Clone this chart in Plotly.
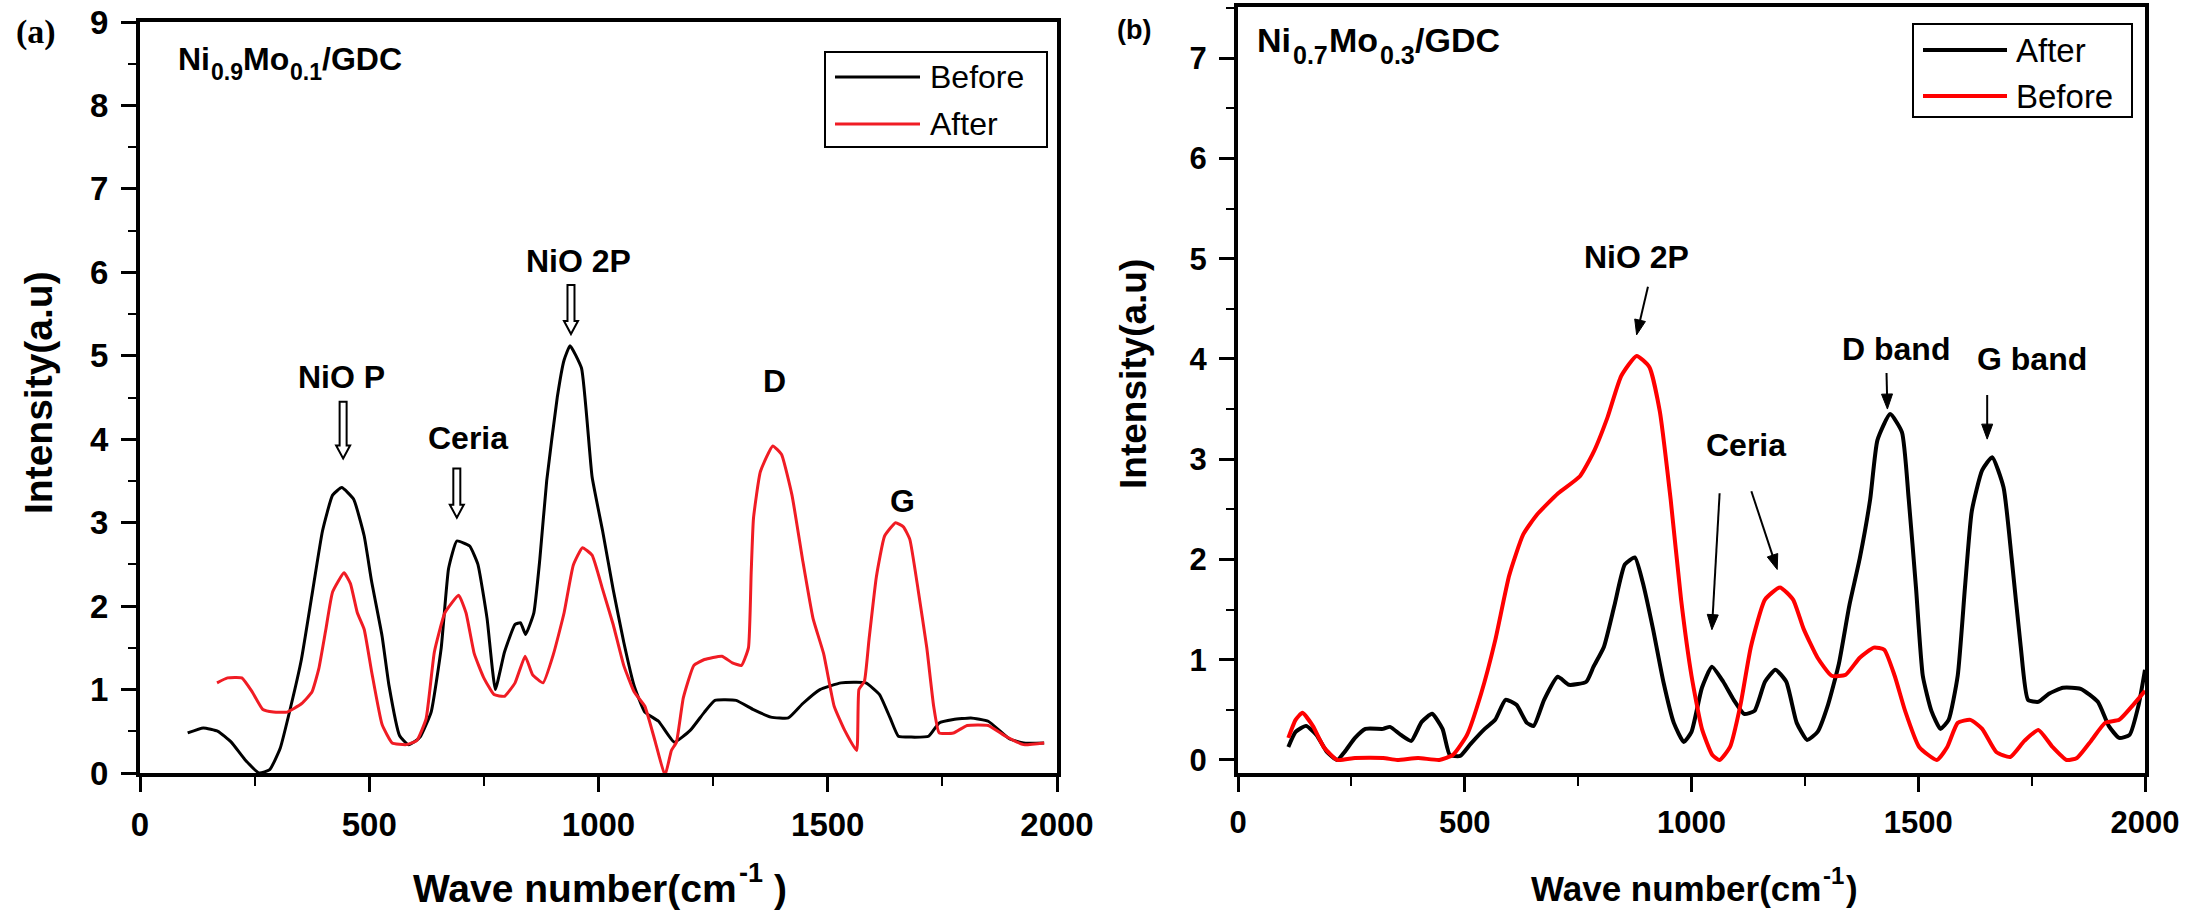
import math
import plotly.graph_objects as go

W, H = 2204, 923

# ---------------- data ----------------
x_ticks = [0, 500, 1000, 1500, 2000]
a_y_ticks = [0, 1, 2, 3, 4, 5, 6, 7, 8, 9]
b_y_ticks = [0, 1, 2, 3, 4, 5, 6, 7]

# Panel (a) Ni0.9Mo0.1/GDC
a_before_x = [104, 138, 170, 199, 229, 260, 283, 306, 329, 352, 375, 398, 420, 440, 466, 489, 505, 528, 543,
              566, 585, 600, 612, 635, 657, 673, 691, 719, 737, 757, 775, 795, 818, 830, 841, 859, 872, 887,
              910, 925, 938, 963, 986, 1009, 1032, 1055, 1078, 1101, 1131, 1165, 1200, 1231, 1254, 1300, 1338,
              1376, 1414, 1445, 1483, 1529, 1583, 1613, 1636, 1654, 1682, 1720, 1743, 1774, 1812, 1850, 1896,
              1927, 1972]
a_before_y = [0.48, 0.54, 0.50, 0.37, 0.16, 0.0, 0.04, 0.30, 0.80, 1.36, 2.13, 2.90, 3.33, 3.42, 3.28, 2.84,
              2.30, 1.64, 1.05, 0.45, 0.34, 0.38, 0.44, 0.73, 1.50, 2.45, 2.78, 2.72, 2.50, 1.85, 1.00, 1.45,
              1.78, 1.80, 1.66, 1.92, 2.56, 3.50, 4.50, 4.95, 5.12, 4.85, 3.55, 2.90, 2.20, 1.57, 1.04, 0.73,
              0.62, 0.37, 0.51, 0.73, 0.87, 0.87, 0.76, 0.67, 0.66, 0.83, 1.00, 1.08, 1.08, 0.94, 0.66, 0.44,
              0.43, 0.44, 0.60, 0.64, 0.66, 0.62, 0.41, 0.36, 0.36]

a_after_x = [168, 191, 222, 245, 268, 291, 321, 352, 375, 390, 405, 420, 445, 459, 474, 489, 505, 528, 550,
             581, 604, 624, 642, 665, 695, 711, 729, 749, 772, 795, 818, 840, 856, 879, 902, 925, 945, 965,
             986, 1009, 1032, 1055, 1078, 1101, 1124, 1145, 1159, 1170, 1185, 1208, 1231, 1269, 1292, 1312,
             1327, 1333, 1338, 1353, 1380, 1399, 1422, 1445, 1468, 1491, 1514, 1537, 1563, 1568, 1580, 1590,
             1606, 1624, 1648, 1665, 1679, 1697, 1716, 1731, 1743, 1774, 1804, 1850, 1888, 1927, 1972]
a_after_y = [1.08, 1.14, 1.14, 0.97, 0.76, 0.73, 0.73, 0.83, 0.97, 1.25, 1.71, 2.17, 2.40, 2.27, 1.92, 1.72,
             1.22, 0.58, 0.36, 0.34, 0.39, 0.65, 1.45, 1.92, 2.13, 1.92, 1.43, 1.15, 0.94, 0.92, 1.08, 1.40,
             1.18, 1.08, 1.43, 1.92, 2.49, 2.70, 2.61, 2.20, 1.78, 1.29, 0.97, 0.80, 0.37, -0.03, 0.27, 0.37,
             0.90, 1.29, 1.36, 1.40, 1.32, 1.29, 1.50, 2.40, 3.05, 3.61, 3.92, 3.82, 3.33, 2.56, 1.85, 1.43,
             0.80, 0.51, 0.27, 1.00, 1.10, 1.60, 2.35, 2.84, 3.00, 2.95, 2.80, 2.20, 1.50, 0.80, 0.48, 0.48,
             0.57, 0.57, 0.44, 0.34, 0.36]

# Panel (b) Ni0.7Mo0.3/GDC
b_after_x = [111, 127, 150, 173, 196, 219, 235, 258, 281, 320, 335, 359, 382, 405, 428, 451, 467, 490, 513,
             544, 567, 590, 614, 637, 652, 675, 705, 730, 768, 784, 807, 830, 853, 875, 892, 915, 938, 961,
             983, 1000, 1023, 1045, 1070, 1093, 1116, 1139, 1162, 1185, 1209, 1232, 1255, 1278, 1301, 1325,
             1348, 1371, 1394, 1410, 1438, 1464, 1479, 1495, 1510, 1529, 1549, 1567, 1587, 1603, 1618, 1641,
             1663, 1688, 1706, 1726, 1742, 1765, 1788, 1819, 1858, 1896, 1920, 1943, 1966, 1986, 2000]
b_after_y = [0.13, 0.28, 0.34, 0.25, 0.08, 0.0, 0.08, 0.22, 0.31, 0.31, 0.33, 0.25, 0.19, 0.38, 0.46, 0.31,
             0.05, 0.04, 0.16, 0.31, 0.40, 0.60, 0.55, 0.37, 0.34, 0.60, 0.83, 0.75, 0.78, 0.93, 1.13, 1.54,
             1.95, 2.02, 1.78, 1.31, 0.78, 0.37, 0.18, 0.28, 0.72, 0.93, 0.78, 0.60, 0.46, 0.49, 0.78, 0.90,
             0.78, 0.37, 0.20, 0.28, 0.55, 0.96, 1.54, 2.01, 2.60, 3.19, 3.45, 3.27, 2.60, 1.72, 0.84, 0.49,
             0.31, 0.40, 0.84, 1.72, 2.48, 2.89, 3.02, 2.72, 2.01, 1.13, 0.60, 0.58, 0.66, 0.72, 0.71, 0.58,
             0.34, 0.22, 0.25, 0.55, 0.90]

b_before_x = [111, 127, 142, 165, 189, 219, 258, 320, 351, 397, 444, 474, 505, 536, 567, 598, 629, 660, 706,
              754, 784, 815, 845, 879, 907, 930, 954, 977, 1000, 1023, 1046, 1062, 1085, 1108, 1131, 1162,
              1195, 1224, 1247, 1278, 1309, 1340, 1371, 1402, 1425, 1448, 1471, 1502, 1541, 1564, 1587, 1615,
              1641, 1672, 1703, 1734, 1765, 1796, 1827, 1850, 1881, 1912, 1943, 1974, 2000]
b_before_y = [0.22, 0.40, 0.47, 0.34, 0.13, 0.0, 0.02, 0.02, 0.0, 0.02, 0.0, 0.05, 0.25, 0.66, 1.19, 1.84,
              2.25, 2.45, 2.66, 2.83, 3.07, 3.42, 3.83, 4.03, 3.92, 3.48, 2.60, 1.60, 0.84, 0.31, 0.05, 0.0,
              0.13, 0.55, 1.13, 1.60, 1.72, 1.60, 1.31, 1.02, 0.84, 0.85, 1.02, 1.12, 1.10, 0.84, 0.49, 0.13,
              0.0, 0.13, 0.37, 0.40, 0.31, 0.08, 0.03, 0.19, 0.30, 0.13, 0.0, 0.02, 0.19, 0.37, 0.40, 0.55, 0.69]

# annotation positions (data units)
a_labels = [("NiO P", 439, 4.74), ("Ceria", 716, 4.02), ("NiO 2P", 956, 6.13), ("D", 1384, 4.70),
            ("G", 1664, 3.26)]
a_arrows = [(443, 4.45, 3.77), (691, 3.65, 3.06), (940, 5.85, 5.26)]          # x, tail y, tip y
b_labels = [("NiO 2P", 879, 5.02), ("Ceria", 1121, 3.14), ("D band", 1452, 4.10), ("G band", 1750, 4.00)]
b_arrows = [(904, 4.72, 879, 4.24), (1062, 2.66, 1045, 1.30), (1132, 2.68, 1189, 1.90),
            (1430, 3.86, 1432, 3.50), (1652, 3.64, 1652, 3.20)]            # tail x, tail y, tip x, tip y

# ---------------- styling ----------------
SANS = "Liberation Sans, Arial, Helvetica, sans-serif"
SERIF = "Liberation Serif, Times New Roman, serif"
RED_A = "#f01c24"
RED_B = "#ff0000"

# pixel geometry of the plot areas
A_X0, A_X1, A_Y0, A_Y1 = 140, 1057, 773, 22        # left, right, bottom, top (px)
B_X0, B_X1, B_Y0, B_Y1 = 1238, 2145, 773, 7
A_RANGE_Y = [0, 9]
B_RANGE_Y = [-0.13, 7.51]

# Arial/Liberation Sans Bold advance widths (em) for the characters used in composed labels
BOLD_W = {"W": .944, "a": .556, "v": .556, "e": .556, " ": .278, "n": .611, "u": .611, "m": .889,
          "b": .611, "r": .389, "(": .333, ")": .333, "c": .556, "-": .333, "1": .556, ".": .278,
          "0": .556, "3": .556, "7": .556, "9": .556, "N": .722, "i": .278, "M": .833, "o": .611,
          "/": .278, "G": .778, "D": .722, "C": .722}


def px_x(p):
    return p / W


def px_y(p):
    return 1 - p / H


fig = go.Figure()
fig.add_trace(go.Scatter(x=a_before_x, y=a_before_y, mode="lines", name="Before",
                         line=dict(color="black", width=3, shape="spline", smoothing=0.4),
                         xaxis="x", yaxis="y", showlegend=False))
fig.add_trace(go.Scatter(x=a_after_x, y=a_after_y, mode="lines", name="After",
                         line=dict(color=RED_A, width=3, shape="spline", smoothing=0.4),
                         xaxis="x", yaxis="y", showlegend=False))
fig.add_trace(go.Scatter(x=b_after_x, y=b_after_y, mode="lines", name="After",
                         line=dict(color="black", width=4, shape="spline", smoothing=0.5),
                         xaxis="x2", yaxis="y2", showlegend=False))
fig.add_trace(go.Scatter(x=b_before_x, y=b_before_y, mode="lines", name="Before",
                         line=dict(color=RED_B, width=4, shape="spline", smoothing=0.5),
                         xaxis="x2", yaxis="y2", showlegend=False))


def xaxis_style(domain, fsize, anchor):
    return dict(domain=domain, range=[0, 2000], tickmode="array", tickvals=x_ticks, anchor=anchor,
                ticks="outside", ticklen=15, tickwidth=3, tickcolor="black",
                showline=True, linewidth=4, linecolor="black", mirror=True,
                showgrid=False, zeroline=False, automargin=False,
                ticklabelstandoff=4,
                minor=dict(tickmode="linear", tick0=0, dtick=250, ticks="outside", ticklen=9,
                           tickwidth=2, tickcolor="black", showgrid=False),
                tickfont=dict(family=SANS, size=fsize, color="black", weight="bold"))


def yaxis_style(domain, rng, tv, fsize, anchor):
    return dict(domain=domain, range=rng, tickmode="array", tickvals=tv, anchor=anchor,
                ticks="outside", ticklen=15, tickwidth=3, tickcolor="black",
                showline=True, linewidth=4, linecolor="black", mirror=True,
                showgrid=False, zeroline=False, automargin=False,
                ticklabelstandoff=6,
                minor=dict(tickmode="linear", tick0=0, dtick=0.5, ticks="outside", ticklen=8,
                           tickwidth=2, tickcolor="black", showgrid=False),
                tickfont=dict(family=SANS, size=fsize, color="black", weight="bold"))


fig.update_layout(
    width=W, height=H,
    margin=dict(l=0, r=0, t=0, b=0),
    paper_bgcolor="white", plot_bgcolor="white",
    xaxis=xaxis_style([px_x(A_X0), px_x(A_X1)], 33, "y"),
    yaxis=yaxis_style([px_y(A_Y0), px_y(A_Y1)], A_RANGE_Y, a_y_ticks, 33, "x"),
    xaxis2=xaxis_style([px_x(B_X0), px_x(B_X1)], 31, "y2"),
    yaxis2=yaxis_style([px_y(B_Y0), px_y(B_Y1)], B_RANGE_Y, b_y_ticks, 31, "x2"),
    showlegend=False,
)

ann = []
shapes = []


def text(x, y, s, size, family=SANS, weight="bold", xref="paper", yref="paper", xanchor="center",
         yanchor="middle", angle=0, color="black"):
    ann.append(dict(x=x, y=y, xref=xref, yref=yref, text=s, showarrow=False, xanchor=xanchor,
                    yanchor=yanchor, textangle=angle,
                    font=dict(family=family, size=size, color=color, weight=weight)))


def seg_width(s, size):
    return sum(BOLD_W[c] for c in s) * size


def composed(x_px, y_px, segments, anchor="left"):
    """segments: (text, font size, vertical shift px (down +), extra gap before px)"""
    total = sum(seg_width(t, s) + g for t, s, _, g in segments)
    if anchor == "center":
        x_px -= total / 2
    for t, s, dy, g in segments:
        x_px += g
        text(px_x(x_px), px_y(y_px + dy), t, s, xanchor="left")
        x_px += seg_width(t, s)


# panel letters
text(px_x(36), px_y(32), "(a)", 34, family=SERIF)
text(px_x(1134), px_y(30), "(b)", 27, family=SANS)

# axis titles (with raised "-1")
composed(598, 888, [("Wave number(cm", 39, 0, 0), ("-1", 27, -15, 1), (")", 39, 0, 11)], anchor="center")
composed(1692, 888, [("Wave number(cm", 35, 0, 0), ("-1", 24, -13, 1), (")", 35, 0, 1)], anchor="center")
text(px_x(38), px_y(393), "Intensity(a.u)", 39, angle=-90)
text(px_x(1133), px_y(374), "Intensity(a.u)", 37, angle=-90)

# sample names (with lowered subscripts)
composed(176, 59, [("Ni", 32, 0, 0), ("0.9", 23, 13, 1), ("Mo", 32, 0, 0), ("0.1", 23, 13, 1),
                   ("/GDC", 32, 0, 0)])
composed(1255, 40, [("Ni", 34, 0, 0), ("0.7", 25, 15, 2), ("Mo", 34, 0, 1), ("0.3", 25, 15, 2),
                    ("/GDC", 34, 0, 0)])

for s, x, y in a_labels:
    text(x, y, s, 32, xref="x", yref="y")
for s, x, y in b_labels:
    text(x, y, s, 32, xref="x2", yref="y2")

# hollow arrows of panel (a): outlined path anchored at the tip, sized in pixels
a_ppu = (A_Y0 - A_Y1) / (A_RANGE_Y[1] - A_RANGE_Y[0])
for x, y_tail, y_tip in a_arrows:
    L = (y_tail - y_tip) * a_ppu
    path = (f"M0,0 L7,13 L3.5,13 L3.5,{L:.1f} L-3.5,{L:.1f} L-3.5,13 L-7,13 Z")
    shapes.append(dict(type="path", xref="x", yref="y", xsizemode="pixel", ysizemode="pixel",
                       xanchor=x, yanchor=y_tip, path=path, fillcolor="white",
                       line=dict(color="black", width=2)))

# thin arrows of panel (b): line + filled head
b_ppx = (B_X1 - B_X0) / 2000.0
b_ppy = (B_Y0 - B_Y1) / (B_RANGE_Y[1] - B_RANGE_Y[0])
HL, HW = 15, 5.5
for x0, y0, x1, y1 in b_arrows:
    dx = (x1 - x0) * b_ppx
    dy = (y1 - y0) * b_ppy
    n = math.hypot(dx, dy)
    ux, uy = dx / n, dy / n
    bx, by = -HL * ux, -HL * uy
    px_, py_ = -uy, ux
    path = (f"M0,0 L{bx + HW * px_:.2f},{by + HW * py_:.2f} "
            f"L{bx - HW * px_:.2f},{by - HW * py_:.2f} Z")
    shapes.append(dict(type="path", xref="x2", yref="y2", xsizemode="pixel", ysizemode="pixel",
                       xanchor=x1, yanchor=y1, path=path, fillcolor="black",
                       line=dict(color="black", width=1)))
    ex = x1 - (HL * 0.8 * ux) / b_ppx
    ey = y1 - (HL * 0.8 * uy) / b_ppy
    shapes.append(dict(type="line", xref="x2", yref="y2", x0=x0, y0=y0, x1=ex, y1=ey,
                       line=dict(color="black", width=2)))


def legend_box(x0, x1, y0, y1, entries, size, lw):
    shapes.append(dict(type="rect", xref="paper", yref="paper", x0=px_x(x0), x1=px_x(x1),
                       y0=px_y(y1), y1=px_y(y0), line=dict(color="black", width=2),
                       fillcolor="rgba(0,0,0,0)"))
    for (ly, lx0, lx1, tx, label, col) in entries:
        shapes.append(dict(type="line", xref="paper", yref="paper", x0=px_x(lx0), x1=px_x(lx1),
                           y0=px_y(ly), y1=px_y(ly), line=dict(color=col, width=lw)))
        text(px_x(tx), px_y(ly), label, size, weight="normal", xanchor="left")


legend_box(825, 1047, 52, 147,
           [(77, 835, 920, 928, "Before", "black"), (124, 835, 920, 928, "After", RED_A)], 32, 3)
legend_box(1913, 2132, 24, 117,
           [(50, 1923, 2007, 2014, "After", "black"), (96, 1923, 2007, 2014, "Before", RED_B)], 33, 4)

fig.update_layout(annotations=ann, shapes=shapes)
fig.write_html("out.html")
